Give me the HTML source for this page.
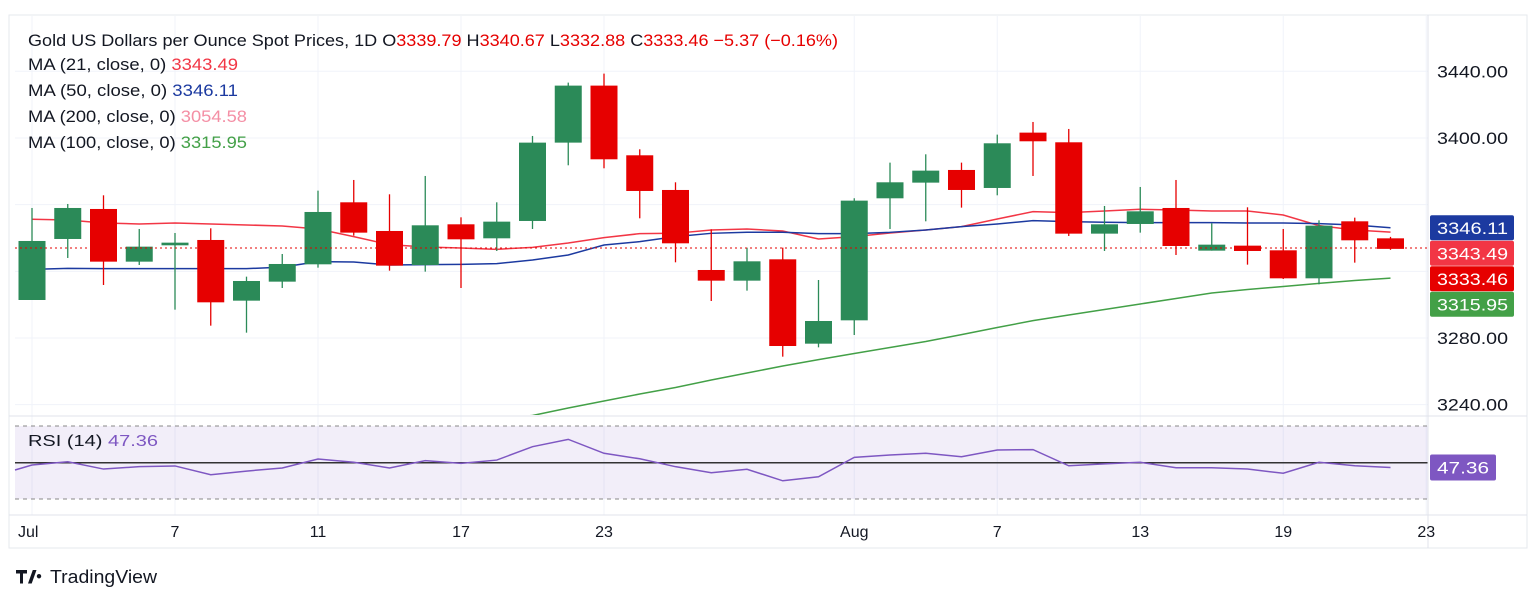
<!DOCTYPE html>
<html><head><meta charset="utf-8">
<style>
html,body{margin:0;padding:0;background:#fff;}
body{width:1536px;height:602px;overflow:hidden;font-family:"Liberation Sans",sans-serif;}
svg text{font-family:"Liberation Sans",sans-serif;}
</style></head>
<body>
<svg id="chart" width="1536" height="602" xmlns="http://www.w3.org/2000/svg">
  <rect x="9" y="15" width="1518" height="533" fill="#fff" stroke="#e6e8ee"/>
  <g id="grid"></g>
  <rect x="15" y="426" width="1413" height="73" fill="#7e57c2" fill-opacity="0.1"/>
  <line x1="15" y1="426" x2="1428" y2="426" stroke="#888" stroke-dasharray="4,4"/>
  <line x1="15" y1="499" x2="1428" y2="499" stroke="#888" stroke-dasharray="4,4"/>
  <line x1="15" y1="462.7" x2="1428" y2="462.7" stroke="#333" stroke-width="1.5"/>
  <line x1="9" y1="416" x2="1527" y2="416" stroke="#e0e3eb"/>
  <line x1="1428" y1="15" x2="1428" y2="548" stroke="#e0e3eb"/>
  <line x1="9" y1="515" x2="1527" y2="515" stroke="#e0e3eb"/>
  <defs><clipPath id="mainclip"><rect x="15" y="16" width="1413" height="399"/></clipPath></defs>
  <g id="mas" clip-path="url(#mainclip)"></g>
  <g id="candles"></g>
  <line x1="15" y1="248" x2="1428" y2="248" stroke="#e60000" stroke-dasharray="2,3"/>
  <g id="rsi"></g>
  <g id="axes"></g>

  <text x="28" y="46" font-size="17" fill="#131722" textLength="810" lengthAdjust="spacingAndGlyphs">Gold US Dollars per Ounce Spot Prices, 1D  O<tspan fill="#e60000">3339.79</tspan>  H<tspan fill="#e60000">3340.67</tspan>  L<tspan fill="#e60000">3332.88</tspan>  C<tspan fill="#e60000">3333.46</tspan>  <tspan fill="#e60000">−5.37 (−0.16%)</tspan></text>
  <text x="28" y="70" font-size="17" fill="#131722" textLength="210" lengthAdjust="spacingAndGlyphs">MA (21, close, 0)  <tspan fill="#f23645">3343.49</tspan></text>
  <text x="28" y="96" font-size="17" fill="#131722" textLength="210" lengthAdjust="spacingAndGlyphs">MA (50, close, 0)  <tspan fill="#1c3aa0">3346.11</tspan></text>
  <text x="28" y="122" font-size="17" fill="#131722" textLength="219" lengthAdjust="spacingAndGlyphs">MA (200, close, 0)  <tspan fill="#f48fa5">3054.58</tspan></text>
  <text x="28" y="148" font-size="17" fill="#131722" textLength="219" lengthAdjust="spacingAndGlyphs">MA (100, close, 0)  <tspan fill="#43a047">3315.95</tspan></text>
  <text x="28" y="446" font-size="16" fill="#131722" textLength="130" lengthAdjust="spacingAndGlyphs">RSI (14)  <tspan fill="#7e57c2">47.36</tspan></text>

  <g>
    <path d="M16 570 h11 v3.5 h-4 v10 h-3 v-10 h-4 z M28 583.5 l4.8 -13.5 h3.7 l-4.8 13.5 z M39 574 a2.2 2.2 0 1 0 0.01 0 z" fill="#131722"/>
    <text x="50" y="583" font-size="18" fill="#131722" textLength="107" lengthAdjust="spacingAndGlyphs">TradingView</text>
  </g>
</svg>
<script>
const dates = ["Jul 1","Jul 2","Jul 3","Jul 4","Jul 7","Jul 8","Jul 9","Jul 10","Jul 11","Jul 14","Jul 15","Jul 16","Jul 17","Jul 18","Jul 21","Jul 22","Jul 23","Jul 24","Jul 25","Jul 28","Jul 29","Jul 30","Jul 31","Aug 1","Aug 4","Aug 5","Aug 6","Aug 7","Aug 8","Aug 11","Aug 12","Aug 13","Aug 14","Aug 15","Aug 18","Aug 19","Aug 20","Aug 21","Aug 22"];
const opens  = [3302.8,3339.4,3357.4,3325.8,3335.6,3338.8,3302.4,3313.8,3324.2,3361.4,3344.2,3323.8,3348.2,3339.8,3350.2,3397.2,3431.4,3389.6,3368.8,3320.8,3314.4,3327.2,3276.6,3290.6,3363.8,3373.2,3380.8,3370.0,3403.2,3397.4,3342.6,3348.4,3358.0,3332.4,3335.4,3332.6,3315.8,3350.0,3339.79];
const highs  = [3358.0,3360.4,3365.6,3345.4,3343.0,3345.8,3316.8,3330.4,3368.4,3374.8,3366.2,3377.2,3352.4,3361.4,3401.2,3433.2,3438.6,3393.2,3373.4,3345.2,3334.2,3334.2,3314.8,3363.8,3385.2,3390.2,3385.2,3402.0,3409.6,3405.4,3359.2,3370.6,3374.8,3348.8,3358.4,3345.4,3350.6,3352.2,3340.67];
const lows   = [3302.8,3328.0,3311.8,3323.8,3297.0,3287.4,3283.2,3310.0,3322.2,3341.4,3320.4,3319.8,3310.0,3332.2,3345.4,3383.6,3381.8,3351.8,3325.4,3302.2,3308.4,3268.8,3274.4,3281.8,3345.4,3350.0,3358.2,3365.6,3377.2,3341.2,3332.2,3343.2,3329.8,3332.4,3324.0,3315.4,3312.2,3325.2,3332.88];
const closes = [3338.2,3358.0,3325.8,3334.8,3337.2,3301.4,3314.2,3324.4,3355.6,3343.2,3323.4,3347.6,3339.2,3349.8,3397.2,3431.4,3387.2,3368.2,3336.8,3314.4,3326.0,3275.2,3290.2,3362.4,3373.4,3380.4,3368.8,3396.8,3398.0,3342.6,3348.2,3356.0,3335.2,3336.0,3332.2,3315.8,3347.4,3338.6,3333.46];
const ma21  = [3351.2,3350.8,3349.0,3348.4,3349.0,3348.4,3347.8,3347.2,3345.4,3340.8,3336.0,3334.6,3334.0,3333.2,3334.4,3337.0,3340.2,3342.6,3342.8,3344.8,3345.4,3344.2,3339.4,3340.8,3343.0,3344.8,3346.8,3351.4,3355.8,3355.2,3356.2,3357.2,3356.8,3356.2,3356.2,3353.8,3347.4,3344.8,3343.49];
const ma50  = [3321.2,3321.8,3321.6,3321.6,3321.6,3321.6,3321.6,3322.5,3325.8,3325.6,3323.8,3324.0,3324.2,3324.6,3326.8,3329.8,3335.8,3337.8,3340.8,3342.8,3343.4,3343.4,3342.6,3342.6,3343.4,3344.8,3346.8,3348.4,3350.4,3349.8,3349.4,3349.2,3349.2,3349.2,3349.0,3349.0,3348.6,3347.8,3346.11];
const ma100 = [3176,3181,3186,3191,3196,3201,3205,3209,3213,3217,3221,3225,3229,3231.5,3233.5,3238.0,3242.2,3246.4,3250.3,3254.8,3259.0,3263.2,3267.0,3270.7,3274.3,3277.9,3282.0,3286.3,3290.4,3293.8,3297.1,3300.4,3303.7,3307.0,3309.1,3310.9,3312.8,3314.5,3315.95];
const rsiPrev = 46.0;
const rsi = [48.7,50.5,46.5,47.8,48.2,43.4,45.4,47.1,52.0,50.2,47.1,51.1,49.6,51.4,58.7,62.7,55.1,52.1,47.8,44.5,46.4,40.1,42.3,52.9,54.2,55.1,53.2,56.9,57.1,48.3,49.3,50.2,47.2,47.2,46.5,44.2,50.2,48.3,47.36];
const priceTicks = [3240,3280,3400,3440];
const gridPrices = [3240,3280,3320,3360,3400,3440];
const timeLabels = ["Jul","7","11","17","23","Aug","7","13","19","23"];
const timeLabelIdx = [0,4,8,12,16,23,27,31,35,39];
const priceBoxes = [{v:3346.11,c:"#1c3aa0"},{v:3343.49,c:"#f23645"},{v:3333.46,c:"#e60000"},{v:3315.95,c:"#43a047"}];

const NS="http://www.w3.org/2000/svg";
function X(i){return 32+35.75*i;}
function Y(p){return 338+(3280-p)*1.667;}
function RY(v){return 499.3-(v-30)*1.833;}
function mk(tag,attrs,parent){const e=document.createElementNS(NS,tag);for(const k in attrs)e.setAttribute(k,attrs[k]);parent.appendChild(e);return e;}

const grid=document.getElementById('grid');
gridPrices.forEach(p=>{
  const l=mk('line',{x1:15,x2:1428,y1:Y(p),y2:Y(p),stroke:'#f0f3fa'},grid);
  
  
});
timeLabelIdx.forEach(i=>{
  const l=mk('line',{x1:X(i),x2:X(i),y1:16,y2:515,stroke:'#f0f3fa'},grid);
  
  
});

const cg=document.getElementById('candles');
for(let i=0;i<dates.length;i++){
  const up=closes[i]>=opens[i];
  const col=up?'#2b8a58':'#e60000';
  const g=mk('g',{},cg);
  
  
  mk('line',{x1:X(i),x2:X(i),y1:Y(highs[i]),y2:Y(lows[i]),stroke:col,'stroke-width':1.3},g);
  const t=Y(Math.max(opens[i],closes[i])),b=Y(Math.min(opens[i],closes[i]));
  mk('rect',{x:X(i)-13.5,y:t,width:27,height:Math.max(2,b-t),fill:col},g);
}

const mg=document.getElementById('mas');
function poly(arr,col,name,w){
  const pts=arr.map((v,i)=>X(i)+','+Y(v)).join(' ');
  const p=mk('polyline',{points:pts,fill:'none',stroke:col,'stroke-width':w},mg);
  
  
}
poly(ma100,'#43a047','ma100-line',1.5);
poly(ma21,'#f23645','ma21-line',1.5);
poly(ma50,'#1c3aa0','ma50-line',1.5);

const rg=document.getElementById('rsi');
const rpts=[(15)+','+RY(rsiPrev)].concat(rsi.map((v,i)=>X(i)+','+RY(v))).join(' ');
const rl=mk('polyline',{points:rpts,fill:'none',stroke:'#7e57c2','stroke-width':1.5},rg);



const ax=document.getElementById('axes');
priceTicks.forEach(p=>{
  const t=mk('text',{x:1437,y:Y(p)+6,'font-size':17,fill:'#131722',textLength:71,lengthAdjust:'spacingAndGlyphs'},ax);
  t.textContent=p.toFixed(2);
  
  
});
timeLabels.forEach((s,k)=>{
  const t=mk('text',{x:X(timeLabelIdx[k])+(k===0?-14:0),y:537,'font-size':16,fill:'#131722','text-anchor':k===0?'start':'middle'},ax);
  t.textContent=s;
  
  
});
const boxYs=[];
priceBoxes.forEach((b,k)=>{
  let cy=Y(b.v);
  if(k>0&&cy<boxYs[k-1]+25.5)cy=boxYs[k-1]+25.5;
  boxYs.push(cy);
  const g=mk('g',{},ax);
  
  
  mk('rect',{x:1430,y:cy-12.5,width:84,height:25,rx:2,fill:b.c},g);
  const t=mk('text',{x:1437,y:cy+6,'font-size':17,fill:'#fff',textLength:71,lengthAdjust:'spacingAndGlyphs'},g);
  t.textContent=b.v.toFixed(2);
});
const rb=mk('g',{},ax);


mk('rect',{x:1430,y:RY(47.36)-13,width:66,height:26,rx:2,fill:'#7e57c2'},rb);
const rt=mk('text',{x:1437,y:RY(47.36)+6,'font-size':17,fill:'#fff',textLength:52,lengthAdjust:'spacingAndGlyphs'},rb);
rt.textContent='47.36';
</script>
</body></html>
